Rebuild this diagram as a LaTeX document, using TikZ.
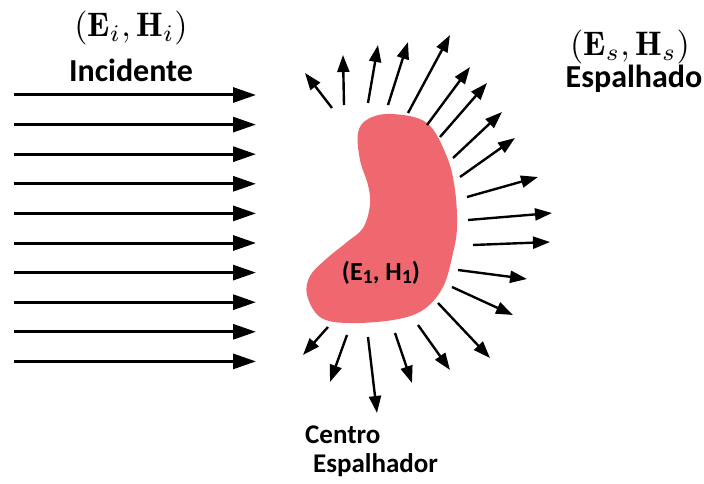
\documentclass[tikz,border=0pt]{standalone}
\usepackage{fontspec}
\usepackage{graphicx}
\newfontfamily\carl{Carlito}
\usetikzlibrary{arrows.meta}
\definecolor{blobpink}{RGB}{239,104,112}
\begin{document}
\begin{tikzpicture}[x=1pt,y=-1pt,
  inc/.style={line width=3pt,-{Triangle[length=23pt,width=15pt]}},
  sca/.style={line width=2.4pt,-{Triangle[length=17pt,width=12pt]}},
  lab/.style={font=\carl\bfseries\fontsize{32}{36}\selectfont,inner sep=0pt},
  lab2/.style={font=\carl\bfseries\fontsize{27}{30}\selectfont,inner sep=0pt,anchor=base west},
  mth/.style={inner sep=0pt}]
\useasboundingbox (0,0) rectangle (704,484);
\fill[white] (0,0) rectangle (704,484);
% scatterer
\fill[blobpink] plot[smooth cycle,tension=0.6] coordinates {
 (392,114) (427,123) (447,157) (455,190) (457,227) (453,253) (443,287)
 (423,310) (393,320) (347,323) (320,317) (307,295) (310,276) (325,260)
 (347,242) (363,228) (370,205) (368,185) (360,160) (358,133) (368,119)};
\node[inner sep=0pt,font=\carl\bfseries\fontsize{26}{30}\selectfont] (inner) at (381,273)
 {(E\raisebox{-0.1em}{\fontsize{20}{22}\selectfont 1}, H\raisebox{-0.1em}{\fontsize{20}{22}\selectfont 1})};
% labels
\node[mth] (ei) at (131,28) {\scalebox{3.4}{$(\mathbf{E}_i,\mathbf{H}_i)$}};
\node[lab,anchor=base] (incid) at (131,82) {Incidente};
\node[mth] (es) at (630,47) {\scalebox{3.4}{$(\mathbf{E}_s,\mathbf{H}_s)$}};
\node[lab,anchor=base] (esp) at (634,88) {Espalhado};
\node[lab2] (centro) at (305,443) {Centro};
\node[lab2] (espal) at (313,472) {Espalhador};
% incident arrows
\foreach \k in {0,...,9}{
  \coordinate (ia\k) at (14,95+\k*29.6);
  \coordinate (ib\k) at (256,95+\k*29.6);
  \draw[inc] (ia\k) -- (ib\k);
}
% scattered arrows
\foreach \sx/\sy/\tx/\ty [count=\n] in {
 332/108/305/73, 344/105/343/55, 368/103/378/45, 388/105/408/42,
 408/113/450/35, 427/125/470/67, 440/137/487/83, 453/158/502/112,
 460/177/515/138, 467/197/538/177, 468/220/552/213, 473/245/550/242,
 458/270/527/279, 452/287/513/315, 438/303/490/358, 418/325/450/370,
 395/333/412/383, 368/337/377/413, 347/335/330/382, 328/327/303/355}{
  \coordinate (sa\n) at (\sx,\sy);
  \coordinate (sb\n) at (\tx,\ty);
  \draw[sca] (sa\n) -- (sb\n);
}
\end{tikzpicture}
\end{document}
